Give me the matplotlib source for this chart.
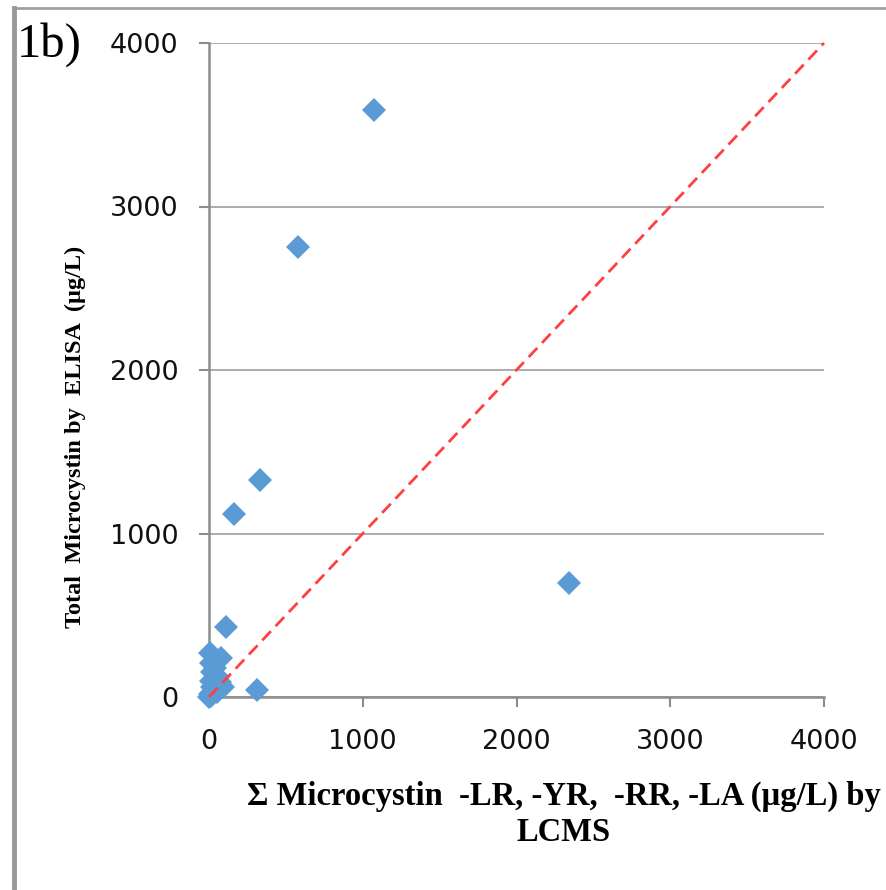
import matplotlib
matplotlib.use("Agg")
import matplotlib.pyplot as plt
from matplotlib.lines import Line2D

# Data
lcms = [1075, 580, 330, 160, 2340, 110, 310,
        5, 80, 10, 40, 20, 60, 15, 45, 90, 30, 5, 10, 50, 0, 20, 70]
elisa = [3590, 2750, 1330, 1120, 700, 430, 40,
         270, 240, 210, 180, 150, 120, 100, 80, 60, 40, 20, 5, 30, 0, 60, 90]
ref_line_x = [0, 4000]
ref_line_y = [0, 4000]
ticks = [0, 1000, 2000, 3000, 4000]

fig = plt.figure(figsize=(8.86, 8.90), dpi=100)
ax = fig.add_axes([209/886, 1-697/890, (824-209)/886, (697-43)/890])

ax.set_xlim(0, 4000)
ax.set_ylim(0, 4000)
ax.set_xticks(ticks)
ax.set_yticks(ticks)
ax.set_xticklabels([str(t) for t in ticks])
ax.set_yticklabels([str(t) for t in ticks])

ax.grid(axis='y', color='#A6A6A6', linewidth=1.3)
ax.set_axisbelow(True)
for s in ['top', 'right']:
    ax.spines[s].set_visible(False)
for s in ['left', 'bottom']:
    ax.spines[s].set_color('#8C8C8C')
    ax.spines[s].set_linewidth(1.8)

ax.tick_params(axis='both', direction='out', length=7, width=1.5,
               color='#8C8C8C', labelsize=19.5, labelcolor='#111111')
ax.tick_params(axis='x', pad=16)
ax.tick_params(axis='y', pad=15)
for lab in ax.get_xticklabels() + ax.get_yticklabels():
    lab.set_fontfamily('DejaVu Sans')

ax.plot(lcms, elisa, linestyle='none', marker='D', markersize=12,
        color='#5B9BD5', markeredgewidth=0, clip_on=False, zorder=3)
ax.plot(ref_line_x, ref_line_y, color='#FF4040', linestyle=(0, (4.5, 2.5)),
        linewidth=2.0, zorder=4, clip_on=False)

ax.set_xlabel('Σ Microcystin  -LR, -YR,  -RR, -LA (µg/L) by\nLCMS',
              fontfamily='Liberation Serif', fontweight='bold', fontsize=23.5,
              linespacing=1.18)
ax.xaxis.set_label_coords(564/886, 1-781/890, transform=fig.transFigure)
ax.xaxis.label.set_verticalalignment('top')

ax.set_ylabel('Total  Microcystin by  ELISA  (µg/L)',
              fontfamily='Liberation Serif', fontweight='bold', fontsize=17.5)
ax.yaxis.set_label_coords(86/886, 1-437/890, transform=fig.transFigure)

fig.text(17/886, 1-57/890, '1b)', fontfamily='Liberation Serif', fontsize=35,
         ha='left', va='baseline')

# frame lines of the original figure
fig.add_artist(Line2D([13/886, 1], [1-8/890, 1-8/890], transform=fig.transFigure,
                      color='#A0A0A0', linewidth=2))
fig.add_artist(Line2D([13.5/886, 13.5/886], [0, 1-8/890], transform=fig.transFigure,
                      color='#999999', linewidth=3.5))

fig.savefig('out.png', dpi=100)
